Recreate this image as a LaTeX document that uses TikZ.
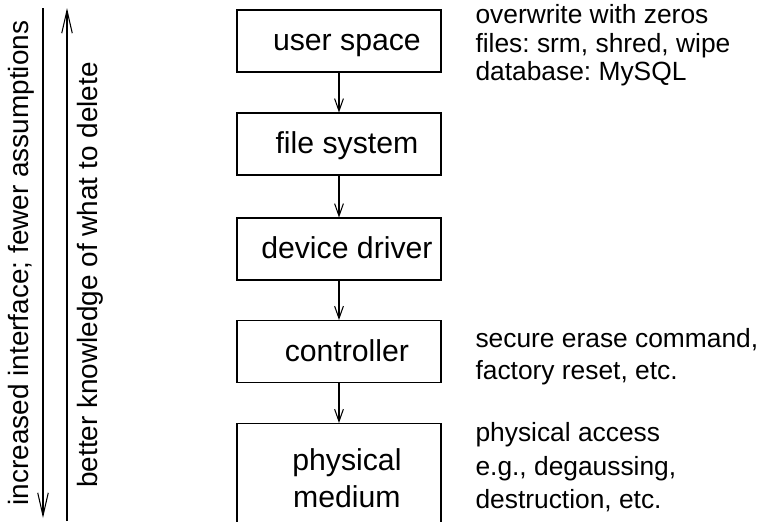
\documentclass[tikz,border=0pt]{standalone}
\usepackage{fontspec}
\setmainfont{Liberation Sans}
\usetikzlibrary{arrows.meta}
\newcommand\lpad{\hspace*{9pt}}
\frenchspacing
\begin{document}
\begin{tikzpicture}[x=0.02cm, y=-0.02cm, line width=0.6pt,
  >={Straight Barb[length=7pt,width=5pt]},
  layer/.style={draw, minimum width=4.08cm, minimum height=1.24cm, align=center,
    font=\fontsize{17.2}{20}\selectfont, execute at begin node=\lpad},
  flat/.style={layer, text height=12pt, text depth=1pt},
  note/.style={anchor=north west, inner sep=0pt, align=left,
    font=\fontsize{15}{16.3}\selectfont},
  side/.style={rotate=90, font=\fontsize{15.9}{18}\selectfont},
  axis/.style={-{Straight Barb[length=13pt,width=6pt]}}]
\useasboundingbox (0,0) rectangle (759,521);
\clip (0,0) rectangle (759,521);
% the layers
\node[flat] (user) at (339,41) {user space};
\node[flat] (fs) at (339,144) {file system};
\node[flat] (drv) at (339,249) {device driver};
\node[flat] (ctl) at (339,351.5) {controller};
\node[layer, minimum height=2.2cm, anchor=north] (phys) at (339,423) {physical\\[1pt]medium};
\draw[->] (user) -- (fs);
\draw[->] (fs) -- (drv);
\draw[->] (drv) -- (ctl);
\draw[->] (ctl) -- (phys);
% notes on the right
\node[note] (n1) at (475,4) {overwrite with zeros\\files: srm, shred, wipe\\database: MySQL};
\node[note, font=\fontsize{15}{18.2}\selectfont] (n2) at (475,328) {secure erase command,\\factory reset, etc.};
\node[note, font=\fontsize{15}{19}\selectfont] (n3) at (475,422) {physical access\\e.g., degaussing,\\destruction, etc.};
% axes on the left
\coordinate (a1) at (43,8);
\coordinate (b1) at (43,518);
\coordinate (a2) at (67,521);
\coordinate (b2) at (67,8);
\draw[axis] (a1) -- (b1);
\draw[axis] (a2) -- (b2);
\node[side] (t1) at (21,263) {increased interface; fewer assumptions};
\node[side] (t2) at (90,275) {better knowledge of what to delete};
\end{tikzpicture}
\end{document}
